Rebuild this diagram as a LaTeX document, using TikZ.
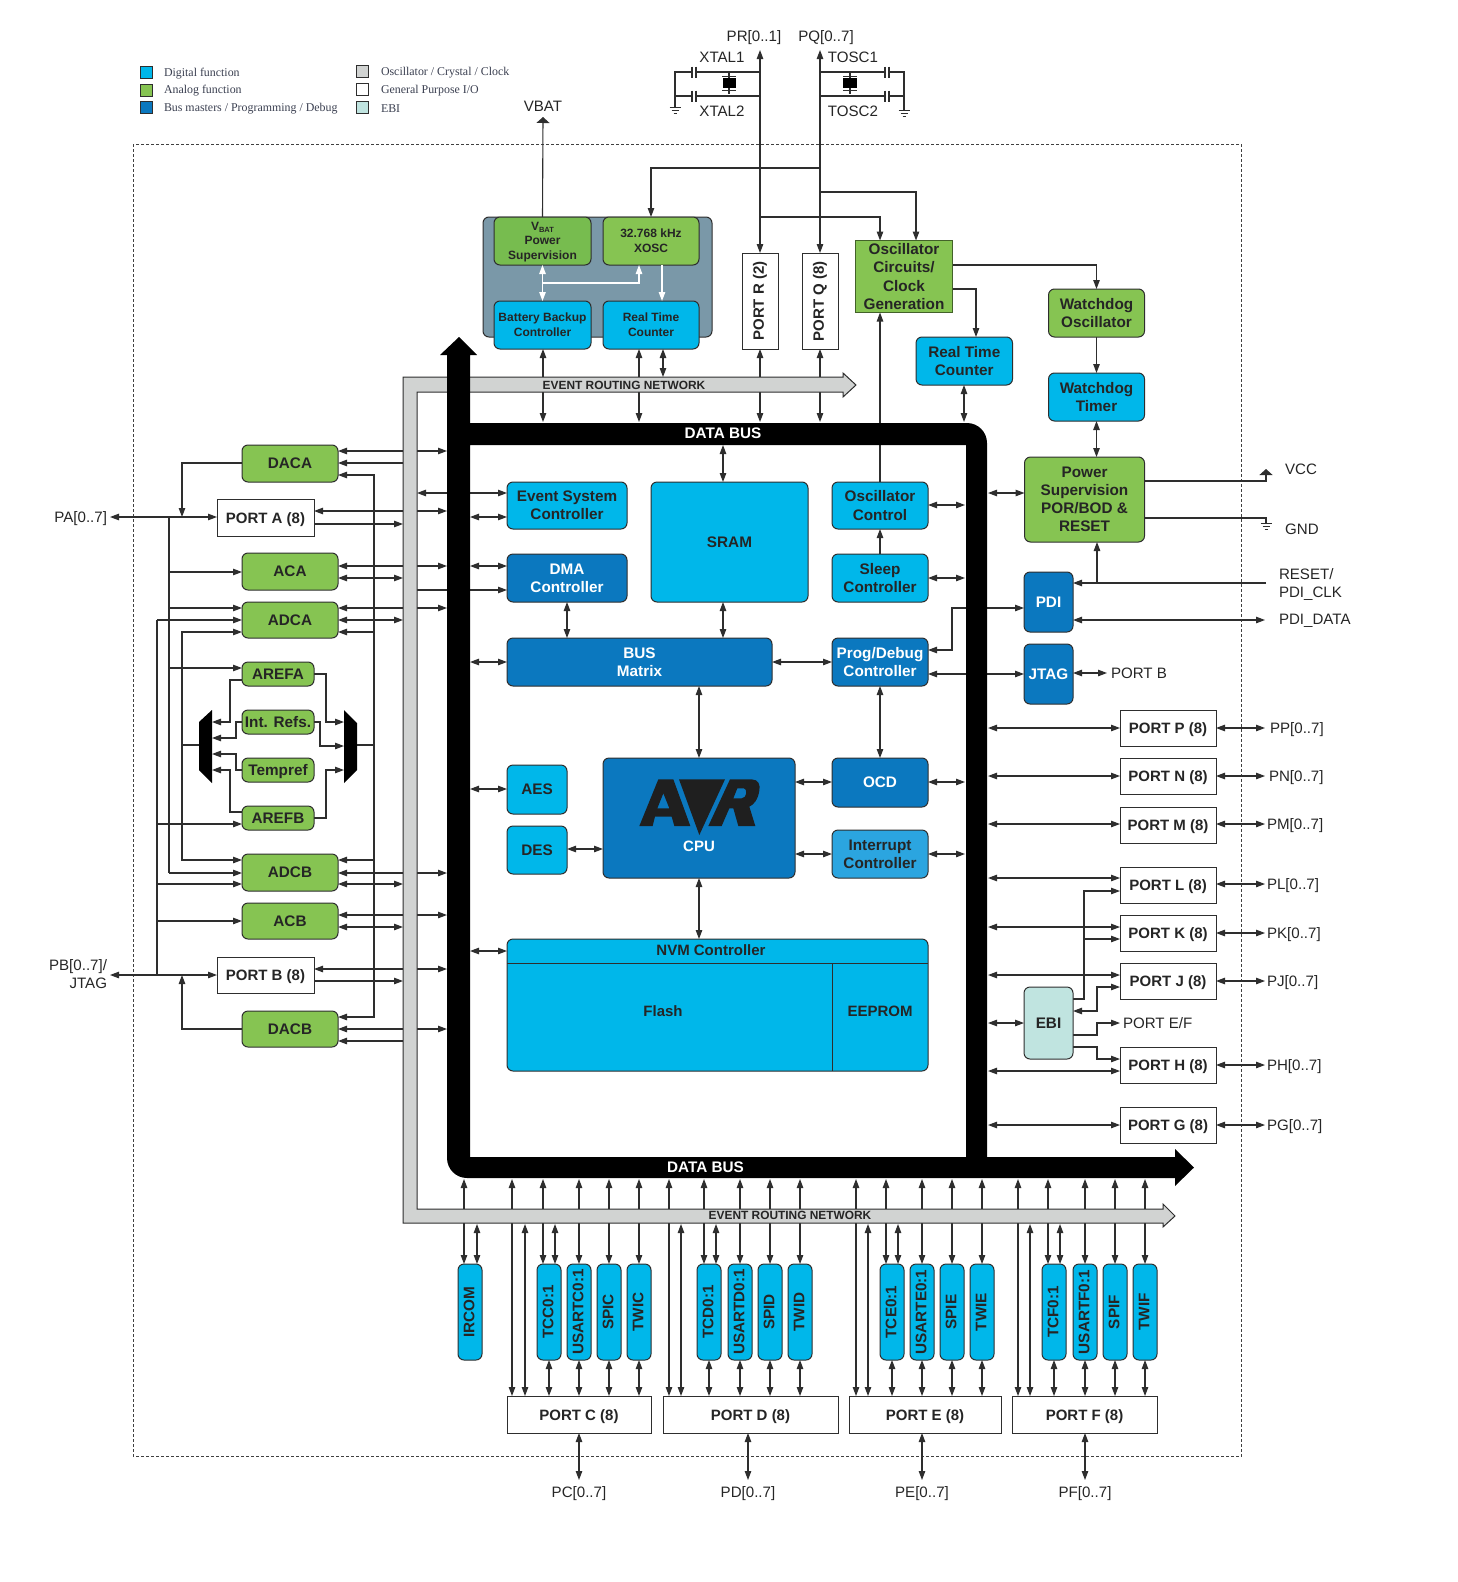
\documentclass[tikz,border=0pt]{standalone}
\usepackage{fontspec}
\usepackage{graphicx}
\setmainfont{Liberation Sans}
\newfontfamily\legfont{Liberation Serif}
\usetikzlibrary{arrows.meta}
\pgfdeclarelayer{wires}
\pgfdeclarelayer{bars}
\pgfsetlayers{wires,bars,main}
\definecolor{digc}{HTML}{00B7EA}
\definecolor{anac}{HTML}{86C452}
\definecolor{anad}{HTML}{77BC4F}
\definecolor{mstc}{HTML}{0B78BF}
\definecolor{intc}{HTML}{2BA5E0}
\definecolor{ebic}{HTML}{C0E4E0}
\definecolor{ernc}{HTML}{D1D3D2}
\definecolor{bkpc}{HTML}{7A98A8}
\definecolor{wirec}{HTML}{2E2E2E}
\definecolor{txtc}{HTML}{252525}
\definecolor{legc}{HTML}{3A3F50}
\tikzset{
  boxbase/.style={draw=wirec,line width=1pt,inner sep=0pt,outer sep=0pt,align=center,text=txtc,
    font=\fontsize{15.3}{18.2}\selectfont\bfseries},
  dig/.style={boxbase,rounded corners=6pt,fill=digc},
  ana/.style={boxbase,rounded corners=6pt,fill=anac},
  mst/.style={boxbase,rounded corners=6pt,fill=mstc,text=white},
  portbox/.style={boxbase,fill=white,font=\fontsize{15}{17}\selectfont\bfseries},
  small/.style={font=\fontsize{12}{15}\selectfont\bfseries},
  lbl/.style={inner sep=0pt,outer sep=0pt,text=txtc,font=\fontsize{15.1}{18}\selectfont},
  leg/.style={inner sep=0pt,outer sep=0pt,anchor=west,text=legc,font=\legfont\fontsize{11.9}{14}\selectfont},
  swatch/.style={draw=wirec,line width=1pt,minimum width=12pt,minimum height=12pt,inner sep=0pt},
  busl/.style={inner sep=0pt,text=white,font=\fontsize{15.3}{18}\selectfont\bfseries},
  ernl/.style={inner sep=0pt,text=txtc,font=\fontsize{11.9}{14}\selectfont\bfseries},
  wp/.style={draw=wirec,line width=1.1pt},
  wa/.style={wp,-{Triangle[length=9pt,width=6.5pt]}},
  wr/.style={wp,{Triangle[length=9pt,width=6.5pt]}-},
  wb/.style={wp,{Triangle[length=9pt,width=6.5pt]}-{Triangle[length=9pt,width=6.5pt]}},
  wh/.style={wp,-{Triangle[length=6pt,width=13pt]}},
  wwa/.style={draw=white,line width=1.2pt,-{Triangle[length=9pt,width=6.5pt]}},
  wwb/.style={draw=white,line width=1.2pt,{Triangle[length=9pt,width=6.5pt]}-{Triangle[length=9pt,width=6.5pt]}},
}
\newcommand\bx[7]{%
  \pgfmathsetmacro\bxw{#5-#3}\pgfmathsetmacro\bxh{#6-#4}%
  \pgfmathsetmacro\bxx{(#5+#3)/2}\pgfmathsetmacro\bxy{(#6+#4)/2}%
  \node[#1,minimum width=\bxw pt,minimum height=\bxh pt] (#2) at (\bxx,\bxy) {#7};}
\newcommand\hc[4]{\draw[#1] (#2 |- 0,#4) -- (#3 |- 0,#4);}
\newcommand\vc[4]{\draw[#1] (#2,0 |- #3) -- (#2,0 |- #4);}
\newcommand\gnd[2]{\draw[wp,line width=0.9pt] (#1-5.5,#2) -- (#1+5.5,#2) (#1-3.5,#2+3) -- (#1+3.5,#2+3) (#1-1.5,#2+6) -- (#1+1.5,#2+6);}
\newcommand\rl[1]{\rotatebox{90}{#1}\hspace{2pt}}
\newcommand\pl[1]{\raisebox{-1.8pt}[\height][\depth]{#1}}
\begin{document}
\begin{tikzpicture}[x=1pt,y=-1pt]
\useasboundingbox (0,0) rectangle (1457,1582);
% ---- named rails
\coordinate (ernL) at (403,0);
\coordinate (ernR) at (417,0);
\coordinate (busL) at (447,0);
\coordinate (busI) at (470,0);
\coordinate (busRi) at (965,0);
\coordinate (busRo) at (988,0);
\coordinate (rail) at (374,0);
\coordinate (lrail) at (182,0);
\coordinate (xa) at (169,0);
\coordinate (xb) at (157,0);
\coordinate (lmux) at (212,0);
\coordinate (rmux) at (344,0);
\coordinate (rx) at (1265,0);
\coordinate (busT) at (0,422);
\coordinate (ernT) at (0,377);
\coordinate (busB) at (0,1179);
\coordinate (ernB) at (0,1224);
\coordinate (busN) at (0,939);
\coordinate (pbend) at (1107,0);
\coordinate (pefend) at (1120,0);
% ---- legend
\node[swatch,fill=digc] (s1) at (146.5,72.5) {};
\node[swatch,fill=anac] (s2) at (146.5,90) {};
\node[swatch,fill=mstc] (s3) at (146.5,107) {};
\node[swatch,fill=ernc] (s4) at (362.5,71.5) {};
\node[swatch,fill=white] (s5) at (362.5,89) {};
\node[swatch,fill=ebic] (s6) at (362.5,107.5) {};
\node[leg] (t1) at (164,74) {Digital function};
\node[leg] (t2) at (164,91) {Analog function};
\node[leg] (t3) at (164,109) {Bus masters / Programming / Debug};
\node[leg] (t4) at (381,73) {Oscillator / Crystal / Clock};
\node[leg] (t5) at (381,91) {General Purpose I/O};
\node[leg] (t6) at (381,109) {EBI};
% ---- top labels
\node[lbl] (prl) at (754,38) {PR[0..1]};
\node[lbl] (pql) at (826,38) {PQ[0..7]};
\node[lbl] (x1l) at (722,57) {XTAL1};
\node[lbl] (x2l) at (722,111) {XTAL2};
\node[lbl] (t1l) at (853,57) {TOSC1};
\node[lbl] (t2l) at (853,111) {TOSC2};
\node[lbl] (vbatl) at (543,106) {VBAT};
% ---- battery block
\node[draw=wirec,line width=1pt,rounded corners=6pt,fill=bkpc,minimum width=229pt,minimum height=120pt,inner sep=0pt,outer sep=0pt] (bkp) at (597.5,277) {};
\bx{ana,small,fill=anad}{vps}{494}{217}{591}{265}{\rule{0pt}{11pt}V{\fontsize{7.5}{8}\selectfont\raisebox{-1.5pt}{BAT}}\\[-1pt]Power\\Supervision}
\bx{ana,small}{xosc}{603}{217}{699}{265}{32.768 kHz\\XOSC}
\bx{dig,small}{bbc}{494}{301}{591}{349}{Battery Backup\\Controller}
\bx{dig,small}{rtca}{603}{301}{699}{349}{Real Time\\Counter}
\draw[wwb] (vps.south) -- (bbc.north);
\draw[wwa,line width=1.2pt] (vps.south |- 0,283) -- (639,283) -- (639,0 |- xosc.south);
\draw[wwa] (662,0 |- xosc.south) -- (662,0 |- rtca.north);
% ---- upper blocks
\bx{portbox}{portR}{742}{253}{778}{349}{\rotatebox{90}{PORT R (2)}}
\bx{portbox}{portQ}{802}{253}{838}{349}{\rotatebox{90}{PORT Q (8)}}
\bx{boxbase,fill=anac,draw=anac!50!black}{osc}{855.5}{240.5}{952.5}{312.5}{Oscillator\\Circuits/\\Clock\\Generation}
\bx{dig}{rtcb}{916}{337}{1012.5}{385}{Real Time\\Counter}
\bx{ana}{wdo}{1048.5}{289}{1144.5}{337}{Watchdog\\Oscillator}
\bx{dig}{wdt}{1048.5}{373}{1144.5}{421}{Watchdog\\Timer}
\bx{ana}{pwr}{1024.5}{457}{1144.5}{542}{Power\\Supervision\\POR/BOD \&\\RESET}
\node[lbl] (vccl) at (1301,469) {VCC};
\node[lbl] (gndl) at (1302,529) {GND};
\node[lbl,anchor=west,align=left] (rstl) at (1279,574) {RESET/};
\node[lbl,anchor=west] (clkl) at (1279,594) {PDI\_CLK};
\node[lbl,anchor=west] (datl) at (1279,621) {PDI\_DATA};
% ---- core
\bx{dig}{evs}{507}{482}{627}{529}{Event System\\Controller}
\bx{mst}{dma}{507}{554}{627}{602}{DMA\\Controller}
\bx{dig}{sram}{651}{482}{808}{602}{SRAM}
\bx{dig}{oscc}{832}{482}{928}{529}{Oscillator\\Control}
\bx{dig}{slp}{832}{554}{928}{602}{Sleep\\Controller}
\bx{mst}{matrix}{507}{638}{772}{686}{BUS\\Matrix}
\bx{mst}{prog}{832}{638}{928}{686}{Prog/Debug\\Controller}
\bx{mst}{cpu}{603}{758}{795}{878}{}
\bx{mst}{ocd}{832}{758}{928}{807}{OCD}
\bx{boxbase,rounded corners=6pt,fill=intc}{intr}{832}{830}{928}{878}{Interrupt\\Controller}
\bx{dig}{aes}{507}{765}{567}{814}{AES}
\bx{dig}{des}{507}{826}{567}{874}{DES}
\begin{scope}[shift={(630,770)},x=0.3333pt,y=-0.3333pt]
  \fill[black!88,even odd rule] (28,168) -- (85,28) -- (130,28) -- (181,168) -- (133,168) -- (125,140) -- (75,140) -- (68,168) -- cycle
     (100,70) -- (118,115) -- (82,115) -- cycle;
  \fill[black!88] (147,28) -- (285,28) -- (208,195) -- cycle;
  \fill[black!88,even odd rule] (300,28) -- (365,28) .. controls (385,28) and (392,45) .. (388,62) .. controls (384,88) and (372,104) .. (358,110) -- (376,168) -- (325,168) -- (310,115) -- (298,115) -- (275,168) -- (235,168) -- cycle
     (322,55) -- (342,55) .. controls (352,55) and (352,85) .. (335,85) -- (310,85) -- cycle;
\end{scope}
\node[inner sep=0pt,text=white,font=\fontsize{15}{18}\selectfont\bfseries] (cpul) at (699,846) {CPU};
\bx{dig,draw=wirec}{nvm}{507}{939}{928}{1071}{}
\coordinate (nvmh) at (507,963);
\draw[wp,line width=1pt] (nvmh) -- (nvm.east |- nvmh);
\draw[wp,line width=1pt] (832,963) -- (832,0 |- nvm.south);
\node[inner sep=0pt,text=txtc,font=\fontsize{15}{18}\selectfont\bfseries] (nvml) at (711,950) {NVM Controller};
\node[inner sep=0pt,text=txtc,font=\fontsize{15}{18}\selectfont\bfseries] (flashl) at (663,1011) {Flash};
\node[inner sep=0pt,text=txtc,font=\fontsize{15}{18}\selectfont\bfseries] (eepl) at (880,1011) {EEPROM};
% ---- right
\bx{mst}{pdi}{1024}{572}{1073}{632}{PDI}
\bx{mst}{jtag}{1024}{644}{1073}{704}{JTAG}
\bx{boxbase,rounded corners=6pt,fill=ebic}{ebi}{1024}{987}{1073}{1059}{EBI}
\node[lbl,anchor=west] (pbl) at (1111,673) {PORT B};
\node[lbl,anchor=west] (pefl) at (1123,1023) {PORT E/F};
\bx{portbox}{portP}{1120}{710}{1216}{746}{\pl{PORT P (8)}}
\bx{portbox}{portN}{1120}{758}{1216}{794}{\pl{PORT N (8)}}
\bx{portbox}{portM}{1120}{807}{1216}{843}{\pl{PORT M (8)}}
\bx{portbox}{portL}{1120}{867}{1216}{903}{\pl{PORT L (8)}}
\bx{portbox}{portK}{1120}{915}{1216}{951}{\pl{PORT K (8)}}
\bx{portbox}{portJ}{1120}{963}{1216}{999}{\pl{PORT J (8)}}
\bx{portbox}{portH}{1120}{1047}{1216}{1083}{\pl{PORT H (8)}}
\bx{portbox}{portG}{1120}{1107}{1216}{1143}{\pl{PORT G (8)}}
\node[lbl,anchor=west] (ppl) at (1270,730) {PP[0..7]};
\node[lbl,anchor=west] (pnl) at (1269,778) {PN[0..7]};
\node[lbl,anchor=west] (pml) at (1267,826) {PM[0..7]};
\node[lbl,anchor=west] (pll) at (1267,886) {PL[0..7]};
\node[lbl,anchor=west] (pkl) at (1267,935) {PK[0..7]};
\node[lbl,anchor=west] (pjl) at (1267,983) {PJ[0..7]};
\node[lbl,anchor=west] (phl) at (1267,1067) {PH[0..7]};
\node[lbl,anchor=west] (pgl) at (1267,1127) {PG[0..7]};
% ---- left
\bx{ana}{daca}{242}{445}{338}{482}{DACA}
\bx{portbox}{portA}{217}{499}{314}{536}{\pl{PORT A (8)}}
\bx{ana}{aca}{242}{553}{338}{590}{ACA}
\bx{ana}{adca}{242}{602}{338}{638}{ADCA}
\bx{ana}{arefa}{242}{662}{314}{686}{AREFA}
\bx{ana}{intref}{242}{710}{314}{734}{Int. Refs.}
\bx{ana}{tempr}{242}{758}{314}{782}{\pl{Tempref}}
\bx{ana}{arefb}{242}{806}{314}{830}{AREFB}
\bx{ana}{adcb}{242}{854}{338}{891}{ADCB}
\bx{ana}{acb}{242}{903}{338}{939}{ACB}
\bx{portbox}{portB}{217}{957}{314}{993}{\pl{PORT B (8)}}
\bx{ana}{dacb}{242}{1011}{338}{1047}{DACB}
\fill[black] (212,710) -- (212,783) -- (199,770) -- (199,722) -- cycle;
\fill[black] (344,710) -- (357,723) -- (357,770) -- (344,783) -- cycle;
\node[lbl,anchor=east] (pal) at (107,519) {PA[0..7]};
\node[lbl,anchor=east] (pbla) at (107,967) {PB[0..7]/};
\node[lbl,anchor=east] (pblb) at (107,983) {JTAG};
% ---- bottom peripherals
\bx{dig}{ircom}{458}{1264}{482}{1360}{\rl{IRCOM}}
\bx{dig}{tcc}{537}{1264}{561}{1360}{\rl{TCC0:1}}
\bx{dig}{usc}{567}{1264}{591}{1360}{\rl{USARTC0:1}}
\bx{dig}{spc}{597}{1264}{621}{1360}{\rl{SPIC}}
\bx{dig}{twc}{627}{1264}{651}{1360}{\rl{TWIC}}
\bx{dig}{tcd}{697}{1264}{721}{1360}{\rl{TCD0:1}}
\bx{dig}{usd}{728}{1264}{752}{1360}{\rl{USARTD0:1}}
\bx{dig}{spd}{758}{1264}{782}{1360}{\rl{SPID}}
\bx{dig}{twd}{788}{1264}{812}{1360}{\rl{TWID}}
\bx{dig}{tce}{880}{1264}{904}{1360}{\rl{TCE0:1}}
\bx{dig}{use}{910}{1264}{934}{1360}{\rl{USARTE0:1}}
\bx{dig}{spe}{940}{1264}{964}{1360}{\rl{SPIE}}
\bx{dig}{twe}{970}{1264}{994}{1360}{\rl{TWIE}}
\bx{dig}{tcf}{1042}{1264}{1066}{1360}{\rl{TCF0:1}}
\bx{dig}{usf}{1073}{1264}{1097}{1360}{\rl{USARTF0:1}}
\bx{dig}{spf}{1103}{1264}{1127}{1360}{\rl{SPIF}}
\bx{dig}{twf}{1133}{1264}{1157}{1360}{\rl{TWIF}}
\bx{portbox}{portC}{507}{1396}{651}{1433}{\pl{PORT C (8)}}
\bx{portbox}{portD}{663}{1396}{838}{1433}{\pl{PORT D (8)}}
\bx{portbox}{portE}{849}{1396}{1001}{1433}{\pl{PORT E (8)}}
\bx{portbox}{portF}{1012}{1396}{1157}{1433}{\pl{PORT F (8)}}
\node[lbl] (pcl) at (579,1493.5) {PC[0..7]};
\node[lbl] (pdl) at (748,1493.5) {PD[0..7]};
\node[lbl] (pel) at (922,1493.5) {PE[0..7]};
\node[lbl] (pfl) at (1085,1493.5) {PF[0..7]};
% ---- bars
\begin{pgfonlayer}{bars}
\draw[draw=wirec,line width=1pt,fill=ernc] (403,377) -- (843,377) -- (843,373) -- (856,385) -- (843,397) -- (843,392) -- (417,392) -- (417,1209) -- (1163,1209) -- (1163,1204) -- (1175,1216) -- (1163,1227) -- (1163,1223) -- (403,1223) -- cycle;
\fill[black,even odd rule] (459,337) -- (477,355) -- (470,355) -- (470,423) -- (967,423) arc[start angle=270,end angle=360,radius=20] -- (987,1157) -- (1175,1157) -- (1175,1149) -- (1194,1167.5) -- (1175,1186) -- (1175,1178) -- (467,1178) arc[start angle=90,end angle=180,radius=20] -- (447,355) -- (440,355) -- cycle
  (470,445) rectangle (966,1157);
\end{pgfonlayer}
\node[ernl] (ernt) at (624,385) {EVENT ROUTING NETWORK};
\node[ernl] (ernb) at (790,1215.5) {EVENT ROUTING NETWORK};
\node[busl] (dbt) at (723,433) {DATA BUS};
\node[busl] (dbb) at (705.5,1167) {DATA BUS};
% ---- wires
\begin{pgfonlayer}{wires}
\draw[densely dashed,draw=black!75,line width=0.8pt] (133,144) rectangle (1241.5,1456);
% crystals
\coordinate (prt) at (760,50);
\coordinate (pqt) at (820,50);
\draw[wb] (prt) -- (portR.north);
\draw[wb] (pqt) -- (portQ.north);
\draw[wp] (760,72) -- (696,72) (692,72) -- (675,72) -- (675,107) (675,96) -- (692,96) (696,96) -- (760,96);
\draw[wp] (692,66.5) -- (692,78) (696,66.5) -- (696,78) (692,90.5) -- (692,102) (696,90.5) -- (696,102);
\draw[wp] (729,72) -- (729,94) (722,76.5) -- (736,76.5) (722,90.5) -- (736,90.5);
\fill[black] (723,78) rectangle (736,88);
\gnd{675}{107}
\draw[wp] (820,72) -- (885,72) (889,72) -- (904,72) -- (904,110) (820,96) -- (885,96) (889,96) -- (904,96);
\draw[wp] (885,66.5) -- (885,78) (889,66.5) -- (889,78) (885,90.5) -- (885,102) (889,90.5) -- (889,102);
\draw[wp] (850,72) -- (850,94) (843,76.5) -- (857,76.5) (843,90.5) -- (857,90.5);
\fill[black] (843,78) rectangle (857,88);
\gnd{904}{110}
% top
\coordinate (vbt) at (543,117);
\draw[wh] (vps.north) -- (vbt);
\draw[wa] (portQ.north |- 0,168) -- (651,168) -- (651,0 |- xosc.north);
\draw[wa] (portR.north |- 0,217) -| (880,0 |- osc.north);
\draw[wa] (portQ.north |- 0,192) -| (916,0 |- osc.north);
\vc{wa}{880}{oscc.north}{osc.south}
\draw[wa] (osc.east |- 0,265) -| (wdo.north);
\draw[wa] (osc.east |- 0,289) -| (976,0 |- rtcb.north);
\draw[wa] (wdo.south) -- (wdt.north);
\draw[wb] (wdt.south) -- (1096.5,0 |- pwr.north);
\vc{wb}{964}{rtcb.south}{busT}
\vc{wb}{543}{bbc.south}{busT}
\vc{wb}{639}{rtca.south}{busT}
\vc{wb}{663}{rtca.south}{ernT}
\vc{wb}{760}{portR.south}{busT}
\vc{wb}{820}{portQ.south}{busT}
\hc{wb}{busRo}{pwr.west}{493}
\coordinate (vcct) at (1266,469);
\draw[wh] (pwr.east |- 0,481) -- (1266,481) -- (vcct);
\draw[wp] (pwr.east |- 0,518) -- (1266,518) -- (1266,523);
\gnd{1266}{523}
% pdi/jtag
\coordinate (rstend) at (1266,583);
\draw[wa] (rstend) -- (pdi.east |- rstend);
\draw[wa] (1097,583) -- (1097,0 |- pwr.south);
\hc{wb}{pdi.east}{rx}{620}
\hc{wb}{jtag.east}{pbend}{673}
\draw[wb] (prog.east |- 0,650) -- (952,650) -- (952,608) -- (pdi.west |- 0,608);
\hc{wb}{prog.east}{jtag.west}{674}
% core
\draw[wb] (723,0 |- busT) ++(0,23) -- (723,0 |- sram.north);
\vc{wb}{567}{dma.south}{matrix.north}
\vc{wb}{723}{sram.south}{matrix.north}
\hc{wb}{matrix.east}{prog.west}{662}
\vc{wb}{699}{matrix.south}{cpu.north}
\vc{wb}{880}{prog.south}{ocd.north}
\hc{wb}{cpu.east}{ocd.west}{782}
\hc{wb}{cpu.east}{intr.west}{854}
\hc{wb}{des.east}{cpu.west}{849}
\vc{wb}{699}{cpu.south}{busN}
\vc{wa}{880}{slp.north}{oscc.south}
\hc{wb}{oscc.east}{busRi}{505}
\hc{wb}{slp.east}{busRi}{578}
\hc{wb}{ocd.east}{busRi}{782}
\hc{wb}{intr.east}{busRi}{854}
\hc{wb}{ernR}{evs.west}{493}
\hc{wb}{busI}{evs.west}{517}
\hc{wb}{busI}{dma.west}{566}
\hc{wa}{ernR}{dma.west}{590}
\hc{wb}{busI}{matrix.west}{662}
\hc{wb}{busI}{aes.west}{789}
\hc{wb}{busI}{nvm.west}{951}
% right ports
\hc{wb}{busRo}{portP.west}{728}
\hc{wb}{busRo}{portN.west}{776}
\hc{wb}{busRo}{portM.west}{824}
\hc{wb}{busRo}{portL.west}{878}
\hc{wb}{busRo}{portK.west}{927}
\hc{wb}{busRo}{portJ.west}{975}
\hc{wb}{busRo}{portH.west}{1071}
\hc{wb}{busRo}{portG.west}{1125}
\hc{wb}{portP.east}{rx}{728}
\hc{wb}{portN.east}{rx}{776}
\hc{wb}{portM.east}{rx}{824}
\hc{wb}{portL.east}{rx}{884}
\hc{wb}{portK.east}{rx}{933}
\hc{wb}{portJ.east}{rx}{981}
\hc{wb}{portH.east}{rx}{1065}
\hc{wb}{portG.east}{rx}{1125}
% ebi
\hc{wb}{busRo}{ebi.west}{1023}
\draw[wa] (ebi.east |- 0,999) -- (1084,999) -- (1084,891) -- (portL.west |- 0,891);
\draw[wa] (1084,939) -- (portK.west |- 0,939);
\draw[wb] (ebi.east |- 0,1011) -- (1097,1011) -- (1097,987) -- (portJ.west |- 0,987);
\draw[wa] (ebi.east |- 0,1035) -- (1097,1035) -- (1097,1023) -- (pefend |- 0,1023);
\draw[wa] (ebi.east |- 0,1047) -- (1097,1047) -- (1097,1059) -- (portH.west |- 0,1059);
% left analog right side
\hc{wb}{daca.east}{busL}{451}
\hc{wr}{daca.east}{ernL}{463}
\draw[wb] (daca.east |- 0,475) -- (rail |- 0,475) -- (rail |- 0,1017) -- (dacb.east |- 0,1017);
\hc{wb}{portA.east}{busL}{511}
\hc{wa}{portA.east}{ernL}{524}
\hc{wb}{aca.east}{busL}{566}
\hc{wb}{aca.east}{ernL}{578}
\hc{wb}{adca.east}{busL}{608}
\hc{wb}{adca.east}{ernL}{620}
\hc{wr}{adca.east}{rail}{632}
\hc{wr}{adcb.east}{rail}{860}
\hc{wb}{adcb.east}{busL}{873}
\hc{wb}{adcb.east}{ernL}{884}
\hc{wb}{acb.east}{busL}{915}
\hc{wb}{acb.east}{ernL}{927}
\hc{wb}{portB.east}{busL}{969}
\hc{wa}{portB.east}{ernL}{981}
\hc{wb}{dacb.east}{busL}{1029}
\hc{wr}{dacb.east}{ernL}{1041}
% left side
\coordinate (pae) at (110,517);
\coordinate (pbe) at (110,975);
\draw[wb] (pae) -- (portA.west |- pae);
\draw[wb] (pbe) -- (portB.west |- pbe);
\draw[wa] (daca.west |- 0,463) -| (lrail |- 0,517);
\draw[wa] (dacb.west |- 0,1029) -| (lrail |- 0,975);
\draw[wp] (xa |- 0,517) -- (xa |- 0,873);
\draw[wp] (xb |- 0,620) -- (xb |- 0,975);
\hc{wa}{xa}{aca.west}{572}
\hc{wa}{xa}{adca.west}{608}
\hc{wa}{xa}{arefa.west}{668}
\hc{wa}{xa}{adcb.west}{873}
\hc{wa}{xb}{adca.west}{620}
\hc{wa}{xb}{arefb.west}{824}
\hc{wa}{xb}{adcb.west}{884}
\hc{wa}{xb}{acb.west}{921}
\draw[wb] (adca.west |- 0,632) -- (lrail |- 0,632) -- (lrail |- 0,860) -- (adcb.west |- 0,860);
\hc{wp}{lrail}{lmux}{745}
\hc{wp}{rmux}{rail}{745}
% mux inputs
\draw[wa] (arefa.west |- 0,680) -- (230,680) -- (230,722) -- (lmux |- 0,722);
\draw[wa] (intref.west |- 0,722) -- (236,722) -- (236,738) -- (lmux |- 0,738);
\draw[wa] (tempr.west |- 0,770) -- (236,770) -- (236,754) -- (lmux |- 0,754);
\draw[wa] (arefb.west |- 0,812) -- (230,812) -- (230,770) -- (lmux |- 0,770);
\draw[wa] (arefa.east |- 0,674) -- (326,674) -- (326,722) -- (rmux |- 0,722);
\draw[wa] (intref.east |- 0,722) -- (320,722) -- (320,746) -- (rmux |- 0,746);
\draw[wa] (arefb.east |- 0,818) -- (326,818) -- (326,770) -- (rmux |- 0,770);
% bottom
\vc{wb}{464}{busB}{ircom.north}
\vc{wb}{477}{ernB}{ircom.north}
\foreach \xx/\pp in {512/portC,669/portD,856/portE,1018/portF}{\vc{wb}{\xx}{busB}{\pp.north}}
\foreach \xx/\pp in {525/portC,681/portD,868/portE,1030/portF}{\vc{wb}{\xx}{ernB}{\pp.north}}
\foreach \xx/\bb in {543/tcc,704/tcd,886/tce,1048/tcf,579/usc,609/spc,639/twc,740/usd,770/spd,800/twd,922/use,952/spe,982/twe,1085/usf,1115/spf,1145/twf}{\vc{wb}{\xx}{busB}{\bb.north}}
\foreach \xx/\bb in {555/tcc,716/tcd,898/tce,1060/tcf}{\vc{wb}{\xx}{ernB}{\bb.north}}
\foreach \xx/\bb/\pp in {549/tcc/portC,579/usc/portC,609/spc/portC,639/twc/portC,709/tcd/portD,740/usd/portD,770/spd/portD,800/twd/portD,892/tce/portE,922/use/portE,952/spe/portE,982/twe/portE,1054/tcf/portF,1085/usf/portF,1115/spf/portF,1145/twf/portF}{\vc{wb}{\xx}{\bb.south}{\pp.north}}
\coordinate (pcb) at (579,1480);
\coordinate (pdb) at (748,1480);
\coordinate (peb) at (922,1480);
\coordinate (pfb) at (1085,1480);
\draw[wb] (pcb |- portC.south) -- (pcb);
\draw[wb] (pdb |- portD.south) -- (pdb);
\draw[wb] (peb |- portE.south) -- (peb);
\draw[wb] (pfb |- portF.south) -- (pfb);
\end{pgfonlayer}
\end{tikzpicture}
\end{document}
